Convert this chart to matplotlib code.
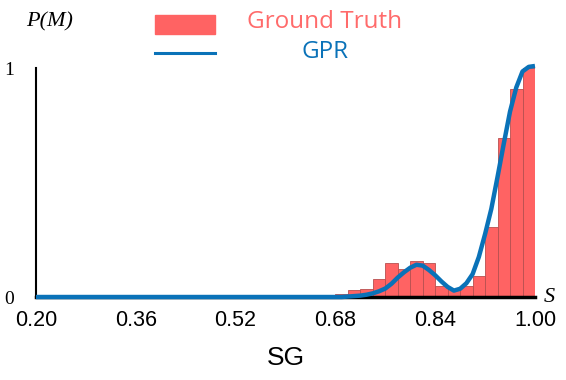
import matplotlib.pyplot as plt
from matplotlib.patches import Rectangle
from matplotlib.lines import Line2D

# histogram of ground truth (bin left edges, width 0.02)
bin_left = [0.68, 0.70, 0.72, 0.74, 0.76, 0.78, 0.80, 0.82,
            0.84, 0.86, 0.88, 0.90, 0.92, 0.94, 0.96, 0.98]
gt_height = [0.012, 0.029, 0.037, 0.077, 0.147, 0.122, 0.157, 0.147,
             0.047, 0.035, 0.048, 0.091, 0.304, 0.693, 0.908, 1.0]

# GPR curve
gpr_x = [0.20, 0.60, 0.68, 0.69, 0.70, 0.71, 0.72, 0.73, 0.74, 0.75, 0.76, 0.77,
         0.78, 0.79, 0.80, 0.81, 0.82, 0.83, 0.84, 0.85, 0.86, 0.87, 0.88,
         0.89, 0.90, 0.91, 0.92, 0.93, 0.94, 0.95, 0.96, 0.97, 0.98, 0.99, 1.00]
gpr_y = [0.0, 0.0, 0.0, 0.0, 0.002, 0.004, 0.006, 0.010, 0.016, 0.025, 0.037, 0.058,
         0.085, 0.108, 0.128, 0.141, 0.137, 0.118, 0.095, 0.068, 0.044, 0.028, 0.036,
         0.060, 0.100, 0.175, 0.275, 0.385, 0.525, 0.670, 0.810, 0.915, 0.985, 1.005, 1.009]

xticks = [0.20, 0.36, 0.52, 0.68, 0.84, 1.00]

red = '#ff6363'
blue = '#0a72b8'

fig = plt.figure(figsize=(5.66, 3.8), dpi=100)
ax = fig.add_axes([0.0636, 0.2184, 0.8816, 0.6026])

ax.bar(bin_left, gt_height, width=0.02, align='edge', color=red,
       edgecolor='#b85050', linewidth=0.6, zorder=2)
ax.plot(gpr_x, gpr_y, color=blue, lw=3.2, solid_joinstyle='round',
        solid_capstyle='butt', clip_on=False, zorder=4)

ax.set_xlim(0.2, 1.0)
ax.set_ylim(0, 1.0)
for s in ['top', 'right']:
    ax.spines[s].set_visible(False)
ax.spines['left'].set_linewidth(1.5)
ax.spines['bottom'].set_linewidth(2.5)
ax.spines['bottom'].set_zorder(3)
ax.set_xticks(xticks)
ax.set_xticklabels(['%.2f' % t for t in xticks], fontsize=15.5, family='Liberation Sans')
ax.set_yticks([0, 1])
ax.set_yticklabels(['0', '1'], fontsize=14, family='Liberation Serif')
ax.tick_params(length=0, axis='x', pad=9)
ax.tick_params(length=0, axis='y', pad=16)
ax.set_xlabel('SG', fontsize=19, family='Liberation Sans', labelpad=11)

fig.text(0.088, 0.942, 'P(M)', fontsize=16, family='Liberation Serif',
         style='italic', ha='center', va='center')
fig.text(0.97, 0.218, 'S', fontsize=16, family='Liberation Serif',
         style='italic', ha='center', va='center')

# legend drawn by hand so labels can be centred
fig.add_artist(Rectangle((155 / 566, 1 - 34 / 380), 60 / 566, 19 / 380,
                         transform=fig.transFigure, color=red))
fig.add_artist(Line2D([155 / 566, 215 / 566], [1 - 53 / 380] * 2,
                      transform=fig.transFigure, color=blue, lw=2.2))
fig.text(325 / 566, 1 - 22 / 380, 'Ground Truth', color='#ff6b6b', fontsize=17.5,
         family='Open Sans', ha='center', va='center')
fig.text(325 / 566, 1 - 52 / 380, 'GPR', color=blue, fontsize=17.5,
         family='Open Sans', ha='center', va='center')

plt.savefig('out.png', dpi=100)
